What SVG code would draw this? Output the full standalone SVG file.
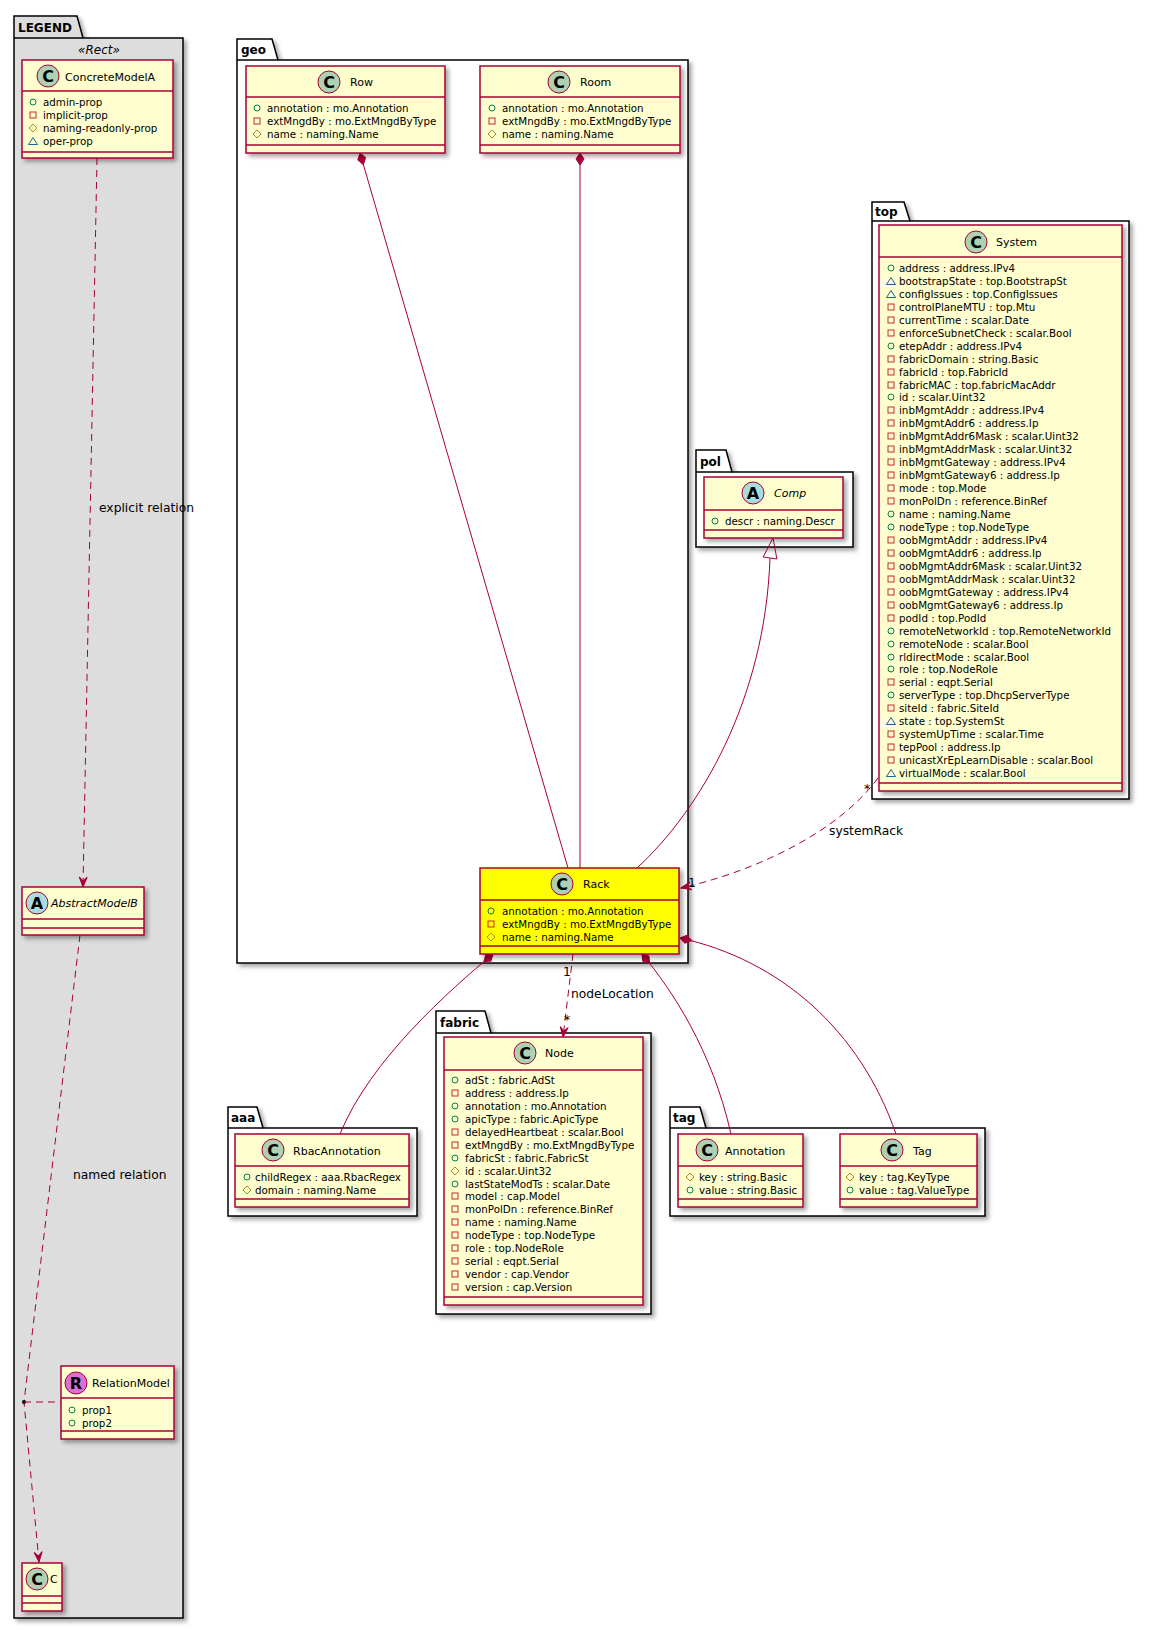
<svg xmlns="http://www.w3.org/2000/svg" width="1150" height="1630" viewBox="0 0 1150 1630">
<style>
text{font-family:"DejaVu Sans",Verdana,sans-serif;fill:#000}
.pk{fill:#fff;stroke:#000;stroke-width:1.5}
.pkl{fill:#DDDDDD;stroke:#000;stroke-width:1.5}
.pt{font-weight:bold;font-size:12px}
.cl{fill:#FEFECE;stroke:#A80036;stroke-width:1.5}
.hl{fill:#FFFF00;stroke:#A80036;stroke-width:1.5}
.sep{stroke:#A80036;stroke-width:1.5;fill:none}
.ci{fill:#ADD1B2;stroke:#A80036;stroke-width:1}
.ai{fill:#A9DCDF;stroke:#A80036;stroke-width:1}
.ri{fill:#DA70D6;stroke:#A80036;stroke-width:1}
.lt{font-weight:bold;font-size:16px;text-anchor:middle}
.nm{font-size:11px}
.it{font-style:italic}
.at{font-size:10.3px}
.lb{font-size:12.3px}
.ln{fill:none;stroke:#A80036;stroke-width:1}
.dsh{stroke-dasharray:7,5}
.pub{fill:none;stroke:#038048;stroke-width:1}
.pri{fill:none;stroke:#C82930;stroke-width:1}
.pro{fill:none;stroke:#B38D22;stroke-width:1}
.pkv{fill:none;stroke:#1963A0;stroke-width:1}
</style>
<defs>
<filter id="sh" x="-10%" y="-10%" width="130%" height="130%">
<feDropShadow dx="3" dy="3" stdDeviation="2" flood-color="#000" flood-opacity="0.35"/>
</filter>
<circle id="pub" class="pub" cx="0" cy="0" r="3"/>
<rect id="pri" class="pri" x="-3" y="-3" width="6" height="6"/>
<path id="pro" class="pro" d="M0,-4 L4,0 L0,4 L-4,0 Z"/>
<path id="pkv" class="pkv" d="M0,-3.5 L4.5,3.5 L-4.5,3.5 Z"/>
<marker id="dia" markerUnits="userSpaceOnUse" markerWidth="14" markerHeight="8" refX="0" refY="4" orient="auto" overflow="visible">
<path d="M0,4 L6,0 L12,4 L6,8 Z" fill="#A80036" stroke="#A80036" stroke-width="1"/>
</marker>
<marker id="arr" markerUnits="userSpaceOnUse" markerWidth="12" markerHeight="10" refX="10" refY="5" orient="auto" overflow="visible">
<path d="M10,5 L0,1 L4,5 L0,9 Z" fill="#A80036" stroke="#A80036" stroke-width="1"/>
</marker>
</defs>
<rect width="1150" height="1630" fill="#fff"/>

<!-- packages -->
<g id="pkg-legend">
<path class="pkl" filter="url(#sh)" d="M14,38 L14,16 L77,16 L83,38 L183,38 L183,1618 L14,1618 Z"/>
<path class="sep" style="stroke:#000" d="M14,38 L83,38"/>
<text class="pt" x="18" y="32">LEGEND</text>
<text class="it" x="99" y="54" font-size="12" text-anchor="middle">«Rect»</text>
</g>
<g id="pkg-geo">
<path class="pk" filter="url(#sh)" d="M237,60 L237,39 L272,39 L278,60 L688,60 L688,963 L237,963 Z"/>
<path class="sep" style="stroke:#000" d="M237,60 L278,60"/>
<text class="pt" x="241" y="54">geo</text>
</g>
<g id="pkg-top">
<path class="pk" filter="url(#sh)" d="M872,221 L872,202 L904,202 L910,221 L1129,221 L1129,799 L872,799 Z"/>
<path class="sep" style="stroke:#000" d="M872,221 L910,221"/>
<text class="pt" x="875" y="216">top</text>
</g>
<g id="pkg-pol">
<path class="pk" filter="url(#sh)" d="M696,472 L696,450 L726,450 L732,472 L853,472 L853,547 L696,547 Z"/>
<path class="sep" style="stroke:#000" d="M696,472 L732,472"/>
<text class="pt" x="700" y="466">pol</text>
</g>
<g id="pkg-fabric">
<path class="pk" filter="url(#sh)" d="M436,1033 L436,1011 L485,1011 L491,1033 L651,1033 L651,1314 L436,1314 Z"/>
<path class="sep" style="stroke:#000" d="M436,1033 L491,1033"/>
<text class="pt" x="440" y="1027">fabric</text>
</g>
<g id="pkg-aaa">
<path class="pk" filter="url(#sh)" d="M228,1128 L228,1107 L257,1107 L263,1128 L417,1128 L417,1216 L228,1216 Z"/>
<path class="sep" style="stroke:#000" d="M228,1128 L263,1128"/>
<text class="pt" x="231" y="1122">aaa</text>
</g>
<g id="pkg-tag">
<path class="pk" filter="url(#sh)" d="M670,1128 L670,1107 L700,1107 L706,1128 L985,1128 L985,1216 L670,1216 Z"/>
<path class="sep" style="stroke:#000" d="M670,1128 L706,1128"/>
<text class="pt" x="673" y="1122">tag</text>
</g>

<!-- connectors -->
<g id="connectors">
<path class="ln dsh" d="M97,158 L83,887" marker-end="url(#arr)"/>
<text class="lb" x="99" y="512">explicit relation</text>
<path class="ln dsh" d="M80,935 L24,1402 L39,1562" marker-end="url(#arr)"/>
<circle cx="24" cy="1402" r="2" fill="#000"/>
<path class="ln dsh" d="M24,1402 L61,1402"/>
<text class="lb" x="73" y="1179">named relation</text>
<path class="ln" d="M360,153 L568,868" marker-start="url(#dia)"/>
<path class="ln" d="M580,153 L580,868" marker-start="url(#dia)"/>
<path class="ln" d="M637,868 C700,810 765,700 770,558"/>
<polygon points="773,538 763.1,557 776.9,559" fill="none" stroke="#A80036" stroke-width="1"/>
<path class="ln dsh" d="M878,778 C840,830 760,870 681,888" marker-end="url(#arr)"/>
<text class="lb" x="864" y="793">*</text>
<text class="lb" x="688" y="887">1</text>
<text class="lb" x="829" y="835">systemRack</text>
<path class="ln dsh" d="M573,954 L563,1037" marker-end="url(#arr)"/>
<text class="lb" x="563" y="976">1</text>
<text class="lb" x="564" y="1024">*</text>
<text class="lb" x="571" y="998">nodeLocation</text>
<path class="ln" d="M493,954 C450,990 370,1060 340,1134" marker-start="url(#dia)"/>
<path class="ln" d="M642,954 C672,990 712,1050 731,1134" marker-start="url(#dia)"/>
<path class="ln" d="M680,938 C780,960 860,1030 896,1134" marker-start="url(#dia)"/>
</g>

<!-- LEGEND classes -->
<g id="ConcreteModelA">
<rect class="cl" filter="url(#sh)" x="22" y="60" width="151" height="98"/>
<path class="sep" d="M22,91 H173 M22,152 H173"/>
<circle class="ci" cx="48" cy="76" r="11"/>
<text class="lt" x="48" y="82">C</text>
<text class="nm" x="65" y="81">ConcreteModelA</text>
<use href="#pub" x="33" y="102"/><text class="at" x="43" y="106">admin-prop</text>
<use href="#pri" x="33" y="115"/><text class="at" x="43" y="119">implicit-prop</text>
<use href="#pro" x="33" y="128"/><text class="at" x="43" y="132">naming-readonly-prop</text>
<use href="#pkv" x="33" y="141"/><text class="at" x="43" y="145">oper-prop</text>
</g>
<g id="AbstractModelB">
<rect class="cl" filter="url(#sh)" x="22" y="887" width="122" height="48"/>
<path class="sep" d="M22,919 H144 M22,928 H144"/>
<circle class="ai" cx="37" cy="903" r="11"/>
<text class="lt" x="37" y="909">A</text>
<text class="nm it" x="51" y="907">AbstractModelB</text>
</g>
<g id="RelationModel">
<rect class="cl" filter="url(#sh)" x="61" y="1366" width="113" height="73"/>
<path class="sep" d="M61,1398 H174 M61,1431 H174"/>
<circle class="ri" cx="76" cy="1383" r="11"/>
<text class="lt" x="76" y="1389">R</text>
<text class="nm" x="92" y="1387">RelationModel</text>
<use href="#pub" x="72" y="1410"/><text class="at" x="82" y="1414">prop1</text>
<use href="#pub" x="72" y="1423"/><text class="at" x="82" y="1427">prop2</text>
</g>
<g id="C">
<rect class="cl" filter="url(#sh)" x="22" y="1563" width="40" height="48"/>
<path class="sep" d="M22,1596 H62 M22,1603 H62"/>
<circle class="ci" cx="37" cy="1579" r="11"/>
<text class="lt" x="37" y="1585">C</text>
<text class="nm" x="50" y="1583">C</text>
</g>

<!-- geo -->
<g id="Row">
<rect class="cl" filter="url(#sh)" x="246" y="66" width="199" height="87"/>
<path class="sep" d="M246,97 H445 M246,145 H445"/>
<circle class="ci" cx="329" cy="82" r="11"/>
<text class="lt" x="329" y="88">C</text>
<text class="nm" x="350" y="86">Row</text>
<use href="#pub" x="257" y="108"/><text class="at" x="267" y="112">annotation : mo.Annotation</text>
<use href="#pri" x="257" y="121"/><text class="at" x="267" y="125">extMngdBy : mo.ExtMngdByType</text>
<use href="#pro" x="257" y="134"/><text class="at" x="267" y="138">name : naming.Name</text>
</g>
<g id="Room">
<rect class="cl" filter="url(#sh)" x="480" y="66" width="200" height="87"/>
<path class="sep" d="M480,97 H680 M480,145 H680"/>
<circle class="ci" cx="559" cy="82" r="11"/>
<text class="lt" x="559" y="88">C</text>
<text class="nm" x="580" y="86">Room</text>
<use href="#pub" x="492" y="108"/><text class="at" x="502" y="112">annotation : mo.Annotation</text>
<use href="#pri" x="492" y="121"/><text class="at" x="502" y="125">extMngdBy : mo.ExtMngdByType</text>
<use href="#pro" x="492" y="134"/><text class="at" x="502" y="138">name : naming.Name</text>
</g>
<g id="Rack">
<rect class="hl" filter="url(#sh)" x="480" y="868" width="199" height="86"/>
<path class="sep" d="M480,900 H679 M480,946 H679"/>
<circle class="ci" cx="562" cy="884" r="11"/>
<text class="lt" x="562" y="890">C</text>
<text class="nm" x="583" y="888">Rack</text>
<use href="#pub" x="491" y="911"/><text class="at" x="502" y="915">annotation : mo.Annotation</text>
<use href="#pri" x="491" y="924"/><text class="at" x="502" y="928">extMngdBy : mo.ExtMngdByType</text>
<use href="#pro" x="491" y="937"/><text class="at" x="502" y="941">name : naming.Name</text>
</g>

<!-- pol -->
<g id="Comp">
<rect class="cl" filter="url(#sh)" x="704" y="477" width="139" height="61"/>
<path class="sep" d="M704,510 H843 M704,530 H843"/>
<circle class="ai" cx="753" cy="493" r="11"/>
<text class="lt" x="753" y="499">A</text>
<text class="nm it" x="774" y="497">Comp</text>
<use href="#pub" x="715" y="521"/><text class="at" x="725" y="525">descr : naming.Descr</text>
</g>

<!-- top -->
<g id="System">
<rect class="cl" filter="url(#sh)" x="879" y="225" width="243" height="566"/>
<path class="sep" d="M879,257 H1122 M879,783 H1122"/>
<circle class="ci" cx="976" cy="242" r="11"/>
<text class="lt" x="976" y="248">C</text>
<text class="nm" x="996" y="246">System</text>
<use href="#pub" x="891" y="268"/><text class="at" x="899" y="272">address : address.IPv4</text>
<use href="#pkv" x="891" y="281"/><text class="at" x="899" y="285">bootstrapState : top.BootstrapSt</text>
<use href="#pkv" x="891" y="294"/><text class="at" x="899" y="298">configIssues : top.ConfigIssues</text>
<use href="#pri" x="891" y="307"/><text class="at" x="899" y="311">controlPlaneMTU : top.Mtu</text>
<use href="#pri" x="891" y="320"/><text class="at" x="899" y="324">currentTime : scalar.Date</text>
<use href="#pri" x="891" y="333"/><text class="at" x="899" y="337">enforceSubnetCheck : scalar.Bool</text>
<use href="#pub" x="891" y="346"/><text class="at" x="899" y="350">etepAddr : address.IPv4</text>
<use href="#pri" x="891" y="359"/><text class="at" x="899" y="363">fabricDomain : string.Basic</text>
<use href="#pri" x="891" y="372"/><text class="at" x="899" y="376">fabricId : top.FabricId</text>
<use href="#pri" x="891" y="385"/><text class="at" x="899" y="389">fabricMAC : top.fabricMacAddr</text>
<use href="#pub" x="891" y="397"/><text class="at" x="899" y="401">id : scalar.Uint32</text>
<use href="#pri" x="891" y="410"/><text class="at" x="899" y="414">inbMgmtAddr : address.IPv4</text>
<use href="#pri" x="891" y="423"/><text class="at" x="899" y="427">inbMgmtAddr6 : address.Ip</text>
<use href="#pri" x="891" y="436"/><text class="at" x="899" y="440">inbMgmtAddr6Mask : scalar.Uint32</text>
<use href="#pri" x="891" y="449"/><text class="at" x="899" y="453">inbMgmtAddrMask : scalar.Uint32</text>
<use href="#pri" x="891" y="462"/><text class="at" x="899" y="466">inbMgmtGateway : address.IPv4</text>
<use href="#pri" x="891" y="475"/><text class="at" x="899" y="479">inbMgmtGateway6 : address.Ip</text>
<use href="#pri" x="891" y="488"/><text class="at" x="899" y="492">mode : top.Mode</text>
<use href="#pri" x="891" y="501"/><text class="at" x="899" y="505">monPolDn : reference.BinRef</text>
<use href="#pub" x="891" y="514"/><text class="at" x="899" y="518">name : naming.Name</text>
<use href="#pub" x="891" y="527"/><text class="at" x="899" y="531">nodeType : top.NodeType</text>
<use href="#pri" x="891" y="540"/><text class="at" x="899" y="544">oobMgmtAddr : address.IPv4</text>
<use href="#pri" x="891" y="553"/><text class="at" x="899" y="557">oobMgmtAddr6 : address.Ip</text>
<use href="#pri" x="891" y="566"/><text class="at" x="899" y="570">oobMgmtAddr6Mask : scalar.Uint32</text>
<use href="#pri" x="891" y="579"/><text class="at" x="899" y="583">oobMgmtAddrMask : scalar.Uint32</text>
<use href="#pri" x="891" y="592"/><text class="at" x="899" y="596">oobMgmtGateway : address.IPv4</text>
<use href="#pri" x="891" y="605"/><text class="at" x="899" y="609">oobMgmtGateway6 : address.Ip</text>
<use href="#pri" x="891" y="618"/><text class="at" x="899" y="622">podId : top.PodId</text>
<use href="#pub" x="891" y="631"/><text class="at" x="899" y="635">remoteNetworkId : top.RemoteNetworkId</text>
<use href="#pub" x="891" y="644"/><text class="at" x="899" y="648">remoteNode : scalar.Bool</text>
<use href="#pub" x="891" y="657"/><text class="at" x="899" y="661">rldirectMode : scalar.Bool</text>
<use href="#pub" x="891" y="669"/><text class="at" x="899" y="673">role : top.NodeRole</text>
<use href="#pri" x="891" y="682"/><text class="at" x="899" y="686">serial : eqpt.Serial</text>
<use href="#pub" x="891" y="695"/><text class="at" x="899" y="699">serverType : top.DhcpServerType</text>
<use href="#pri" x="891" y="708"/><text class="at" x="899" y="712">siteId : fabric.SiteId</text>
<use href="#pkv" x="891" y="721"/><text class="at" x="899" y="725">state : top.SystemSt</text>
<use href="#pri" x="891" y="734"/><text class="at" x="899" y="738">systemUpTime : scalar.Time</text>
<use href="#pri" x="891" y="747"/><text class="at" x="899" y="751">tepPool : address.Ip</text>
<use href="#pri" x="891" y="760"/><text class="at" x="899" y="764">unicastXrEpLearnDisable : scalar.Bool</text>
<use href="#pkv" x="891" y="773"/><text class="at" x="899" y="777">virtualMode : scalar.Bool</text>
</g>

<!-- fabric -->
<g id="Node">
<rect class="cl" filter="url(#sh)" x="444" y="1037" width="199" height="268"/>
<path class="sep" d="M444,1070 H643 M444,1297 H643"/>
<circle class="ci" cx="525" cy="1053" r="11"/>
<text class="lt" x="525" y="1059">C</text>
<text class="nm" x="545" y="1057">Node</text>
<use href="#pub" x="455" y="1080"/><text class="at" x="465" y="1084">adSt : fabric.AdSt</text>
<use href="#pri" x="455" y="1093"/><text class="at" x="465" y="1097">address : address.Ip</text>
<use href="#pub" x="455" y="1106"/><text class="at" x="465" y="1110">annotation : mo.Annotation</text>
<use href="#pub" x="455" y="1119"/><text class="at" x="465" y="1123">apicType : fabric.ApicType</text>
<use href="#pri" x="455" y="1132"/><text class="at" x="465" y="1136">delayedHeartbeat : scalar.Bool</text>
<use href="#pri" x="455" y="1145"/><text class="at" x="465" y="1149">extMngdBy : mo.ExtMngdByType</text>
<use href="#pub" x="455" y="1158"/><text class="at" x="465" y="1162">fabricSt : fabric.FabricSt</text>
<use href="#pro" x="455" y="1171"/><text class="at" x="465" y="1175">id : scalar.Uint32</text>
<use href="#pub" x="455" y="1184"/><text class="at" x="465" y="1188">lastStateModTs : scalar.Date</text>
<use href="#pri" x="455" y="1196"/><text class="at" x="465" y="1200">model : cap.Model</text>
<use href="#pri" x="455" y="1209"/><text class="at" x="465" y="1213">monPolDn : reference.BinRef</text>
<use href="#pri" x="455" y="1222"/><text class="at" x="465" y="1226">name : naming.Name</text>
<use href="#pri" x="455" y="1235"/><text class="at" x="465" y="1239">nodeType : top.NodeType</text>
<use href="#pri" x="455" y="1248"/><text class="at" x="465" y="1252">role : top.NodeRole</text>
<use href="#pri" x="455" y="1261"/><text class="at" x="465" y="1265">serial : eqpt.Serial</text>
<use href="#pri" x="455" y="1274"/><text class="at" x="465" y="1278">vendor : cap.Vendor</text>
<use href="#pri" x="455" y="1287"/><text class="at" x="465" y="1291">version : cap.Version</text>
</g>

<!-- aaa -->
<g id="RbacAnnotation">
<rect class="cl" filter="url(#sh)" x="235" y="1134" width="174" height="73"/>
<path class="sep" d="M235,1166 H409 M235,1199 H409"/>
<circle class="ci" cx="273" cy="1150" r="11"/>
<text class="lt" x="273" y="1156">C</text>
<text class="nm" x="293" y="1155">RbacAnnotation</text>
<use href="#pub" x="247" y="1177"/><text class="at" x="255" y="1181">childRegex : aaa.RbacRegex</text>
<use href="#pro" x="247" y="1190"/><text class="at" x="255" y="1194">domain : naming.Name</text>
</g>

<!-- tag -->
<g id="Annotation">
<rect class="cl" filter="url(#sh)" x="678" y="1134" width="125" height="73"/>
<path class="sep" d="M678,1166 H803 M678,1199 H803"/>
<circle class="ci" cx="707" cy="1150" r="11"/>
<text class="lt" x="707" y="1156">C</text>
<text class="nm" x="725" y="1155">Annotation</text>
<use href="#pro" x="690" y="1177"/><text class="at" x="699" y="1181">key : string.Basic</text>
<use href="#pub" x="690" y="1190"/><text class="at" x="699" y="1194">value : string.Basic</text>
</g>
<g id="Tag">
<rect class="cl" filter="url(#sh)" x="840" y="1134" width="137" height="73"/>
<path class="sep" d="M840,1166 H977 M840,1199 H977"/>
<circle class="ci" cx="892" cy="1150" r="11"/>
<text class="lt" x="892" y="1156">C</text>
<text class="nm" x="913" y="1155">Tag</text>
<use href="#pro" x="850" y="1177"/><text class="at" x="859" y="1181">key : tag.KeyType</text>
<use href="#pub" x="850" y="1190"/><text class="at" x="859" y="1194">value : tag.ValueType</text>
</g>
</svg>
